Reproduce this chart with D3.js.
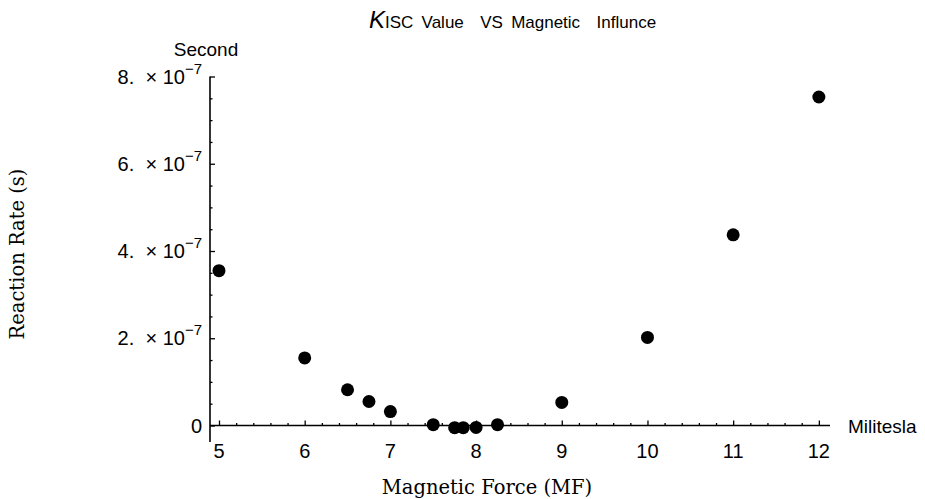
<!DOCTYPE html>
<html>
<head>
<meta charset="utf-8">
<script src="https://cdn.jsdelivr.net/npm/d3@7"></script>
<style>
  body { margin: 0; background: #fff; }
  text { fill: #000; }
</style>
</head>
<body>
<svg class="container"></svg>
<script>
// magnetic field (Militesla) and K_ISC value (seconds)
const fields = [5, 6, 6.5, 6.75, 7, 7.5, 7.75, 7.85, 8, 8.25, 9, 10, 11, 12];
const rates = [3.55e-7, 1.55e-7, 0.82e-7, 0.55e-7, 0.32e-7, 0.02e-7, -0.05e-7, -0.05e-7, -0.045e-7, 0.02e-7, 0.53e-7, 2.02e-7, 4.37e-7, 7.53e-7];
const xTicks = [5, 6, 7, 8, 9, 10, 11, 12];
const yTicks = [0, 2e-7, 4e-7, 6e-7, 8e-7];
const yTickMantissa = ["0", "2.", "4.", "6.", "8."];

const width = 925;
const height = 499;

const svg = d3.select(".container").attr("width", width).attr("height", height);

const xScale = d3.scaleLinear().domain([4.895, 12.13]).range([210, 830]);
const yScale = d3.scaleLinear().domain([0, 8e-7]).range([425.5, 76.5]);
const yBottom = -0.38e-7;

const sans = "'Liberation Sans', Arial, sans-serif";
const serif = "'DejaVu Serif', serif";

// x axis: ticks point up
const xMinor = d3.range(5, 12.01, 0.2).filter((v) => Math.abs(v - Math.round(v)) > 0.01);
const xAxis = d3.axisBottom(xScale).tickValues(xTicks).tickSize(-5).tickSizeOuter(0).tickFormat("");
const gx = svg.append("g").attr("transform", `translate(0, ${yScale(0)})`).call(xAxis);
gx.select(".domain").remove();
gx.selectAll("line").attr("stroke-width", 1.3);
const xAxisMinor = d3.axisBottom(xScale).tickValues(xMinor).tickSize(-2.5).tickSizeOuter(0).tickFormat("");
const gxm = svg.append("g").attr("transform", `translate(0, ${yScale(0)})`).call(xAxisMinor);
gxm.select(".domain").remove();
gxm.selectAll("line").attr("stroke-width", 1.3);

svg.append("line")
  .attr("x1", xScale.range()[0]).attr("x2", xScale.range()[1])
  .attr("y1", yScale(0)).attr("y2", yScale(0))
  .attr("stroke", "#000").attr("stroke-width", 1.6);

svg.selectAll(".xlab")
  .data(xTicks)
  .enter()
  .append("text")
  .attr("class", "xlab")
  .attr("x", (d) => xScale(d))
  .attr("y", 458)
  .attr("text-anchor", "middle")
  .style("font-family", sans)
  .style("font-size", "20px")
  .text((d) => d);

// y axis: ticks point right
const yMinor = d3.range(0, 8.01e-7, 0.5e-7).filter((v) => Math.abs(v / 2e-7 - Math.round(v / 2e-7)) > 0.01);
const yAxis = d3.axisLeft(yScale).tickValues(yTicks).tickSize(-5).tickSizeOuter(0).tickFormat("");
const gy = svg.append("g").attr("transform", `translate(${xScale.range()[0]}, 0)`).call(yAxis);
gy.select(".domain").remove();
gy.selectAll("line").attr("stroke-width", 1.3);
const yAxisMinor = d3.axisLeft(yScale).tickValues(yMinor).tickSize(-2.5).tickSizeOuter(0).tickFormat("");
const gym = svg.append("g").attr("transform", `translate(${xScale.range()[0]}, 0)`).call(yAxisMinor);
gym.select(".domain").remove();
gym.selectAll("line").attr("stroke-width", 1.3);

svg.append("line")
  .attr("x1", xScale.range()[0]).attr("x2", xScale.range()[0])
  .attr("y1", yScale(8e-7)).attr("y2", yScale(yBottom))
  .attr("stroke", "#000").attr("stroke-width", 1.6);

const ylab = svg.selectAll(".ylab")
  .data(yTicks)
  .enter()
  .append("text")
  .attr("class", "ylab")
  .attr("x", 202)
  .attr("y", (d) => yScale(d) + 7)
  .attr("text-anchor", "end")
  .style("font-family", sans)
  .style("font-size", "20px")
  .style("white-space", "pre");
ylab.append("tspan").text((d, i) => (d === 0 ? "0" : yTickMantissa[i] + "  \u00d7 10"));
ylab.filter((d) => d !== 0)
  .append("tspan")
  .attr("dy", -10)
  .style("font-size", "15px")
  .text("\u22127");

// points
svg.selectAll("circle")
  .data(fields)
  .enter()
  .append("circle")
  .attr("cx", (d) => xScale(d))
  .attr("cy", (d, i) => yScale(rates[i]))
  .attr("r", 6.5)
  .attr("fill", "#000");

// axis end labels
svg.append("text")
  .attr("x", 848).attr("y", 433)
  .style("font-family", sans).style("font-size", "19px")
  .text("Militesla");
svg.append("text")
  .attr("x", 206).attr("y", 56)
  .attr("text-anchor", "middle")
  .style("font-family", sans).style("font-size", "19px")
  .text("Second");

// title
const title = svg.append("text")
  .attr("x", 369).attr("y", 28)
  .style("font-family", sans)
  .style("white-space", "pre");
title.append("tspan").style("font-size", "24px").style("font-style", "italic").text("K");
title.append("tspan").style("font-size", "17px").style("word-spacing", "3.5px").text("ISC Value  VS Magnetic  Influnce");

// axis titles
svg.append("text")
  .attr("x", 487).attr("y", 494)
  .attr("text-anchor", "middle")
  .style("font-family", serif).style("font-size", "19.5px")
  .text("Magnetic Force (MF)");
svg.append("text")
  .attr("transform", "translate(24, 254) rotate(-90)")
  .attr("text-anchor", "middle")
  .style("font-family", serif).style("font-size", "19.5px")
  .text("Reaction Rate (s)");
</script>
</body>
</html>
